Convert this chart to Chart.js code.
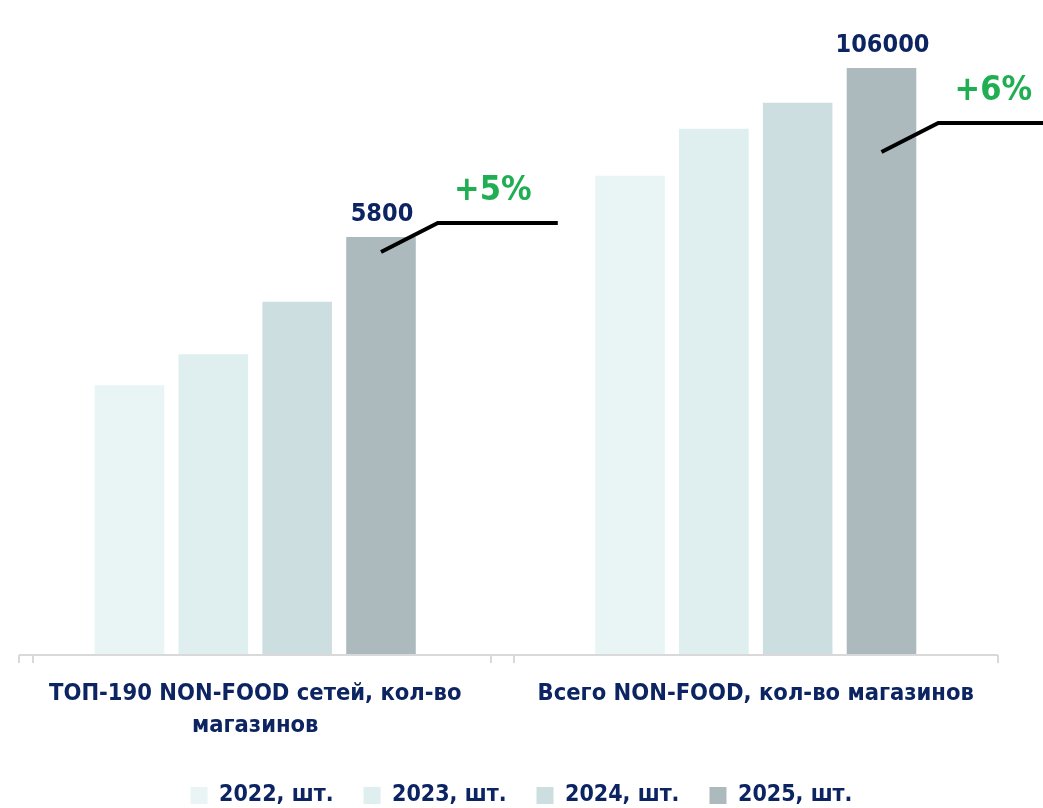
<!DOCTYPE html>
<html>
<head>
<meta charset="utf-8">
<script src="https://cdn.jsdelivr.net/npm/chart.js@4/dist/chart.umd.min.js"></script>
<style>
  body { margin: 0; background: #fff; }
  #wrap { width: 1043px; height: 808px; }
</style>
</head>
<body>
<div id="wrap"><canvas id="chart" width="1043" height="808"></canvas></div>
<script>
// Data
const categories = [
  ['ТОП-190 NON-FOOD сетей, кол-во', 'магазинов'],
  'Всего NON-FOOD, кол-во магазинов'
];
const years = ['2022, шт.', '2023, шт.', '2024, шт.', '2025, шт.'];
const topStores = [3740, 4170, 4900, 5800];      // ТОП-190 сетей
const allStores = [86500, 95000, 99700, 106000]; // всего NON-FOOD
const growthLabels = ['+5%', '+6%'];
const colors = ['#e9f4f4', '#dfeeee', '#cddee1', '#acbabe'];

const NAVY = '#0c2461';
const GREEN = '#1fae52';
const FONT = "'Liberation Sans Narrow', 'DejaVu Sans Condensed', 'Roboto', sans-serif";

// Build datasets: one per year for each group, each on its own value axis
const datasets = [];
years.forEach((y, i) => {
  datasets.push({
    label: y,
    data: [topStores[i], null],
    backgroundColor: colors[i],
    yAxisID: 'yTop',
    skipNull: true
  });
});
years.forEach((y, i) => {
  datasets.push({
    label: y,
    data: [null, allStores[i]],
    backgroundColor: colors[i],
    yAxisID: 'yAll',
    skipNull: true
  });
});

// Draws the axis line, value labels and growth markers
const annotations = {
  id: 'annotations',
  afterLayout(chart) {
    // center the legend on the whole canvas, not on the padded area
    chart.legend.left = 0;
    chart.legend.right = chart.width;
    chart.legend.width = chart.width;
  },
  afterDatasetsDraw(chart) {
    const ctx = chart.ctx;
    const area = chart.chartArea;
    const mid = (area.left + area.right) / 2;

    // axis line with tick marks
    ctx.save();
    ctx.strokeStyle = '#d9d9d9';
    ctx.lineWidth = 2;
    ctx.beginPath();
    ctx.moveTo(area.left + 14, area.bottom + 1);
    ctx.lineTo(area.right - 8, area.bottom + 1);
    [area.left + 14, area.left + 28, mid - 14.5, mid + 8.5, area.right - 8].forEach(x => {
      ctx.moveTo(x, area.bottom + 1);
      ctx.lineTo(x, area.bottom + 9);
    });
    ctx.stroke();
    ctx.restore();

    // last-year bar of each group
    const lastBars = [
      chart.getDatasetMeta(3).data[0],
      chart.getDatasetMeta(7).data[1]
    ];
    const values = [topStores[3], allStores[3]];
    const lineDy = [-14, 55];

    lastBars.forEach((bar, i) => {
      const right = bar.x + bar.width / 2;
      const lineY = bar.y + lineDy[i];

      ctx.save();
      ctx.fillStyle = NAVY;
      ctx.font = 'bold 25px ' + FONT;
      ctx.textAlign = 'center';
      ctx.textBaseline = 'alphabetic';
      ctx.fillText(String(values[i]), bar.x + 1, bar.y - 16);

      ctx.strokeStyle = '#000';
      ctx.lineWidth = 4;
      ctx.lineCap = 'butt';
      ctx.beginPath();
      ctx.moveTo(bar.x, lineY + 29);
      ctx.lineTo(right + 22, lineY);
      ctx.lineTo(Math.min(right + 142, chart.width), lineY);
      ctx.stroke();

      ctx.fillStyle = GREEN;
      ctx.font = 'bold 34px ' + FONT;
      ctx.textBaseline = 'middle';
      ctx.fillText(growthLabels[i], right + 77, lineY - 32);
      ctx.restore();
    });
  }
};

new Chart(document.getElementById('chart'), {
  type: 'bar',
  data: { labels: categories, datasets: datasets },
  options: {
    responsive: false,
    animation: false,
    layout: { padding: { left: 5, right: 37, top: 20, bottom: -9 } },
    datasets: {
      bar: { categoryPercentage: 0.67, barPercentage: 0.83 }
    },
    plugins: {
      tooltip: { enabled: false },
      legend: {
        position: 'bottom',
        labels: {
          filter: item => item.datasetIndex < 4,
          boxWidth: 17,
          boxHeight: 17,
          padding: 30,
          color: NAVY,
          font: { family: FONT, size: 23, weight: 'bold' }
        }
      }
    },
    scales: {
      x: {
        grid: { display: false, drawTicks: false },
        border: { display: false },
        afterFit: scale => { scale.height -= 12; },
        ticks: {
          padding: 24,
          color: NAVY,
          maxRotation: 0,
          autoSkip: false,
          font: { family: FONT, size: 23.5, weight: 'bold', lineHeight: 1.36 }
        }
      },
      yTop: { display: false, min: 0, max: 8818 },
      yAll: { display: false, min: 0, max: 114683 }
    }
  },
  plugins: [annotations]
});
</script>
</body>
</html>
